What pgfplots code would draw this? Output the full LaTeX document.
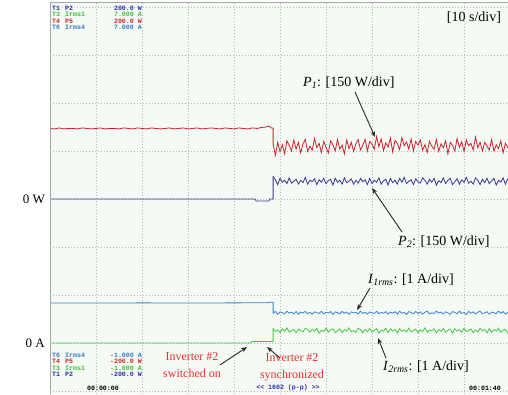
\documentclass[border=0pt]{standalone}
\usepackage{pgfplots}
\pgfplotsset{compat=1.18}
\usepackage{pgfplotstable}
\usepackage{fontspec}
\setmainfont{Liberation Serif}
\newfontfamily\mono{Liberation Mono}
\usetikzlibrary{arrows.meta}
\definecolor{cP1}{RGB}{200,35,45}
\definecolor{cP2}{RGB}{55,55,150}
\definecolor{cI1}{RGB}{60,130,200}
\definecolor{cI2}{RGB}{70,200,70}
\definecolor{hB}{RGB}{45,45,170}
\definecolor{hG}{RGB}{60,190,60}
\definecolor{hR}{RGB}{200,40,40}
\definecolor{hL}{RGB}{50,120,200}
\definecolor{bgc}{RGB}{245,250,245}
\definecolor{annred}{RGB}{225,50,50}

\pgfplotstableread{
t p1 p2 i1 i2
48.5 5.14 4.47 1.616 1.304
49.0 4.91 4.40 1.658 1.238
49.5 5.18 4.30 1.595 1.271
50.0 4.99 4.43 1.648 1.216
50.5 5.13 4.35 1.634 1.299
51.0 4.94 4.39 1.606 1.244
51.5 5.21 4.32 1.662 1.315
52.0 5.12 4.44 1.623 1.227
52.5 5.00 4.33 1.641 1.260
53.0 5.23 4.37 1.609 1.282
53.5 5.04 4.41 1.655 1.211
54.0 5.18 4.31 1.599 1.293
54.5 4.96 4.39 1.644 1.255
55.0 5.15 4.34 1.627 1.233
55.5 5.24 4.45 1.658 1.310
56.0 4.99 4.31 1.613 1.277
56.5 5.10 4.39 1.637 1.222
57.0 5.02 4.36 1.602 1.288
57.5 5.26 4.42 1.651 1.244
58.0 5.07 4.30 1.630 1.304
58.5 5.16 4.40 1.616 1.205
59.0 4.97 4.35 1.662 1.266
59.5 5.20 4.43 1.606 1.238
60.0 5.08 4.32 1.641 1.310
60.5 4.96 4.38 1.623 1.227
61.0 5.21 4.41 1.655 1.271
61.5 5.13 4.29 1.595 1.299
62.0 5.00 4.43 1.648 1.211
62.5 5.24 4.35 1.634 1.255
63.0 5.04 4.39 1.609 1.293
63.5 5.12 4.31 1.658 1.216
64.0 4.94 4.44 1.620 1.282
64.5 5.23 4.34 1.644 1.249
65.0 5.05 4.37 1.599 1.315
65.5 5.18 4.42 1.651 1.233
66.0 4.99 4.31 1.627 1.260
66.5 5.15 4.39 1.637 1.222
67.0 5.24 4.33 1.606 1.310
67.5 5.02 4.43 1.665 1.277
68.0 5.12 4.36 1.616 1.211
68.5 5.24 4.40 1.641 1.288
69.0 5.00 4.30 1.602 1.238
69.5 5.20 4.43 1.648 1.304
70.0 5.14 4.32 1.630 1.227
70.5 5.04 4.39 1.613 1.266
71.0 5.30 4.35 1.662 1.299
71.5 5.09 4.44 1.609 1.205
72.0 5.25 4.31 1.637 1.271
72.5 5.01 4.38 1.620 1.244
73.0 5.17 4.41 1.655 1.310
73.5 5.08 4.29 1.599 1.216
74.0 5.27 4.43 1.644 1.293
74.5 4.98 4.34 1.623 1.249
75.0 5.22 4.39 1.651 1.282
75.5 5.16 4.31 1.602 1.211
76.0 5.03 4.43 1.662 1.299
76.5 5.28 4.35 1.620 1.244
77.0 5.11 4.45 1.637 1.271
77.5 5.19 4.32 1.595 1.227
78.0 5.04 4.37 1.655 1.310
78.5 5.25 4.40 1.634 1.233
79.0 5.00 4.30 1.609 1.260
79.5 5.20 4.42 1.658 1.288
80.0 5.12 4.36 1.616 1.216
80.5 5.23 4.33 1.648 1.277
81.0 5.02 4.44 1.599 1.238
81.5 5.13 4.39 1.641 1.315
82.0 4.97 4.31 1.662 1.222
82.5 5.20 4.41 1.606 1.271
83.0 5.10 4.35 1.630 1.255
83.5 5.04 4.43 1.613 1.293
84.0 5.24 4.29 1.665 1.211
84.5 4.99 4.38 1.623 1.282
85.0 5.15 4.34 1.644 1.244
85.5 5.07 4.44 1.602 1.304
86.0 5.21 4.32 1.651 1.227
86.5 4.94 4.39 1.627 1.266
87.0 5.18 4.43 1.599 1.288
87.5 5.12 4.30 1.655 1.205
88.0 5.00 4.36 1.637 1.299
88.5 5.26 4.42 1.609 1.249
89.0 5.08 4.31 1.662 1.277
89.5 5.19 4.40 1.616 1.222
90.0 4.99 4.35 1.634 1.310
90.5 5.23 4.45 1.595 1.238
91.0 5.11 4.33 1.658 1.260
91.5 5.16 4.37 1.620 1.293
92.0 5.02 4.31 1.648 1.216
92.5 5.29 4.44 1.606 1.271
93.0 5.07 4.39 1.641 1.233
93.5 5.18 4.30 1.662 1.304
94.0 5.00 4.41 1.613 1.255
94.5 5.18 4.34 1.627 1.282
95.0 5.10 4.43 1.651 1.211
95.5 5.02 4.32 1.599 1.299
96.0 5.24 4.38 1.644 1.227
96.5 5.00 4.43 1.630 1.277
97.0 5.13 4.29 1.609 1.249
97.5 5.05 4.39 1.665 1.310
98.0 5.21 4.35 1.620 1.222
98.5 4.96 4.44 1.655 1.266
99.0 5.16 4.31 1.602 1.288
99.5 5.07 4.42 1.637 1.205
100.0 5.12 4.37 1.630 1.260
}\after

\begin{document}
\begin{tikzpicture}
\begin{axis}[
  at={(0pt,0pt)}, anchor=south west,
  scale only axis, width=458pt, height=392pt,
  xmin=0, xmax=99.565, ymin=-0.0625, ymax=8.104,
  xtick={0,10,...,90}, ytick={0,1,...,8},
  xticklabels={}, yticklabels={},
  major tick length=0pt,
  grid=major,
  grid style={draw=black!28, line width=0.6pt, dash pattern=on 0.8pt off 2.2pt},
  axis line style={draw=none},
  axis background/.style={fill=bgc},
  clip=true,
]
% before switch-on / synchronisation
\addplot[cP1, line width=0.8pt] coordinates {
(0,5.47) (1,5.46) (2,5.48) (3,5.46) (4,5.47) (5,5.47) (6,5.46) (7,5.48) (8,5.47) (9,5.46)
(10,5.47) (11,5.48) (12,5.46) (13,5.47) (14,5.47) (15,5.46) (16,5.48) (17,5.47) (18,5.46) (19,5.48)
(20,5.47) (21,5.46) (22,5.48) (23,5.47) (24,5.46) (25,5.47) (26,5.48) (27,5.46) (28,5.47) (29,5.48)
(30,5.46) (31,5.47) (32,5.48) (33,5.46) (34,5.47) (35,5.48) (36,5.47) (37,5.46) (38,5.48) (39,5.47)
(40,5.46) (41,5.48) (42,5.47) (43,5.46) (44,5.48) (45,5.47) (46,5.49) (47,5.50) (47.6,5.52) (48.1,5.48) (48.5,5.48) (48.5,5.14)};
\addplot[cP2, line width=0.8pt] coordinates {
(0,4.0) (44.6,4.0) (44.8,3.96) (47.6,3.96) (47.8,4.0) (48.5,4.0) (48.5,4.47)};
\addplot[cI1, line width=0.8pt] coordinates {
(0,1.835) (10,1.832) (20,1.836) (30,1.833) (40,1.836) (47,1.838) (48,1.848) (48.5,1.848) (48.5,1.616)};
\addplot[cI2, line width=0.8pt] coordinates {
(0,1.0) (43.5,1.0) (43.9,1.03) (48.5,1.03) (48.5,1.304)};
% after
\addplot[cP1, line width=0.8pt] table[x=t, y=p1] {\after};
\addplot[cP2, line width=0.8pt] table[x=t, y=p2] {\after};
\addplot[cI1, line width=0.8pt] table[x=t, y=i1] {\after};
\addplot[cI2, line width=0.8pt] table[x=t, y=i2] {\after};
\end{axis}
% frame: left and top edges
\draw[black!35, line width=0.8pt] (0pt,0pt) -- (0pt,392pt) -- (458pt,392pt);

% header readouts
\begin{scope}[every node/.style={inner sep=0pt, font=\mono\bfseries\fontsize{6.6}{7}\selectfont}]
\node[anchor=west, text=hB] at (2pt,386pt) {T1};
\node[anchor=west, text=hB] at (15pt,386pt) {P2};
\node[anchor=east, text=hB] at (92pt,386pt) {200.0 W};
\node[anchor=west, text=hG] at (2pt,379.5pt) {T3};
\node[anchor=west, text=hG] at (15pt,379.5pt) {Irms1};
\node[anchor=east, text=hG] at (92pt,379.5pt) {7.000 A};
\node[anchor=west, text=hR] at (2pt,373pt) {T4};
\node[anchor=west, text=hR] at (15pt,373pt) {P5};
\node[anchor=east, text=hR] at (92pt,373pt) {200.0 W};
\node[anchor=west, text=hL] at (2pt,366.5pt) {T6};
\node[anchor=west, text=hL] at (15pt,366.5pt) {Irms4};
\node[anchor=east, text=hL] at (92pt,366.5pt) {7.000 A};
% bottom readouts
\node[anchor=west, text=hL] at (2pt,39pt) {T6};
\node[anchor=west, text=hL] at (15pt,39pt) {Irms4};
\node[anchor=east, text=hL] at (92pt,39pt) {-1.000 A};
\node[anchor=west, text=hR] at (2pt,32.5pt) {T4};
\node[anchor=west, text=hR] at (15pt,32.5pt) {P5};
\node[anchor=east, text=hR] at (92pt,32.5pt) {-200.0 W};
\node[anchor=west, text=hG] at (2pt,26pt) {T3};
\node[anchor=west, text=hG] at (15pt,26pt) {Irms1};
\node[anchor=east, text=hG] at (92pt,26pt) {-1.000 A};
\node[anchor=west, text=hB] at (2pt,19.5pt) {T1};
\node[anchor=west, text=hB] at (15pt,19.5pt) {P2};
\node[anchor=east, text=hB] at (92pt,19.5pt) {-200.0 W};
\node[text=black] at (53pt,6pt) {00:00:00};
\node[text=hB] at (238pt,6pt) {<< 1602 (p-p) >>};
\node[text=black] at (435pt,6pt) {00:01:40};
\end{scope}

% axis zero labels
\node[anchor=east, inner sep=0pt, font=\fontsize{13}{14}\selectfont] at (-5pt,195pt) {0 W};
\node[anchor=east, inner sep=0pt, font=\fontsize{13}{14}\selectfont] at (-5pt,51pt) {0 A};

% annotations
\node[anchor=center, inner sep=0pt, font=\fontsize{14}{16}\selectfont] at (424pt,376pt) {[10 s/div]};
\node[anchor=west, inner sep=0pt, font=\fontsize{14}{16}\selectfont] at (253pt,311pt) {\textit{P}\textsubscript{\textit{1}}: [150 W/div]};
\node[anchor=west, inner sep=0pt, font=\fontsize{14}{16}\selectfont] at (348pt,152pt) {\textit{P}\textsubscript{\textit{2}}: [150 W/div]};
\node[anchor=west, inner sep=0pt, font=\fontsize{14}{16}\selectfont] at (318pt,114pt) {\textit{I}\textsubscript{\textit{1rms}}: [1 A/div]};
\node[anchor=west, inner sep=0pt, font=\fontsize{14}{16}\selectfont] at (333pt,27pt) {\textit{I}\textsubscript{\textit{2rms}}: [1 A/div]};
\node[align=center, inner sep=0pt, text=annred, font=\fontsize{12}{17}\selectfont] at (142pt,29pt) {Inverter \#2\\switched on};
\node[align=center, inner sep=0pt, text=annred, font=\fontsize{12}{17}\selectfont] at (242pt,27pt) {Inverter \#2\\synchronized};

\begin{scope}[-{Stealth[length=6pt,width=4.5pt]}, line width=0.9pt, black!85]
\draw (305pt,302pt) -- (325pt,257pt);
\draw (352pt,162pt) -- (322pt,206pt);
\draw (320pt,106pt) -- (307pt,84pt);
\draw (336pt,36pt) -- (328pt,56pt);
\draw (170pt,29pt) -- (197pt,47pt);
\draw (230pt,36pt) -- (217pt,47pt);
\end{scope}

\pgfresetboundingbox
\useasboundingbox (-50pt,0pt) rectangle (458pt,394pt);
\end{tikzpicture}
\end{document}
